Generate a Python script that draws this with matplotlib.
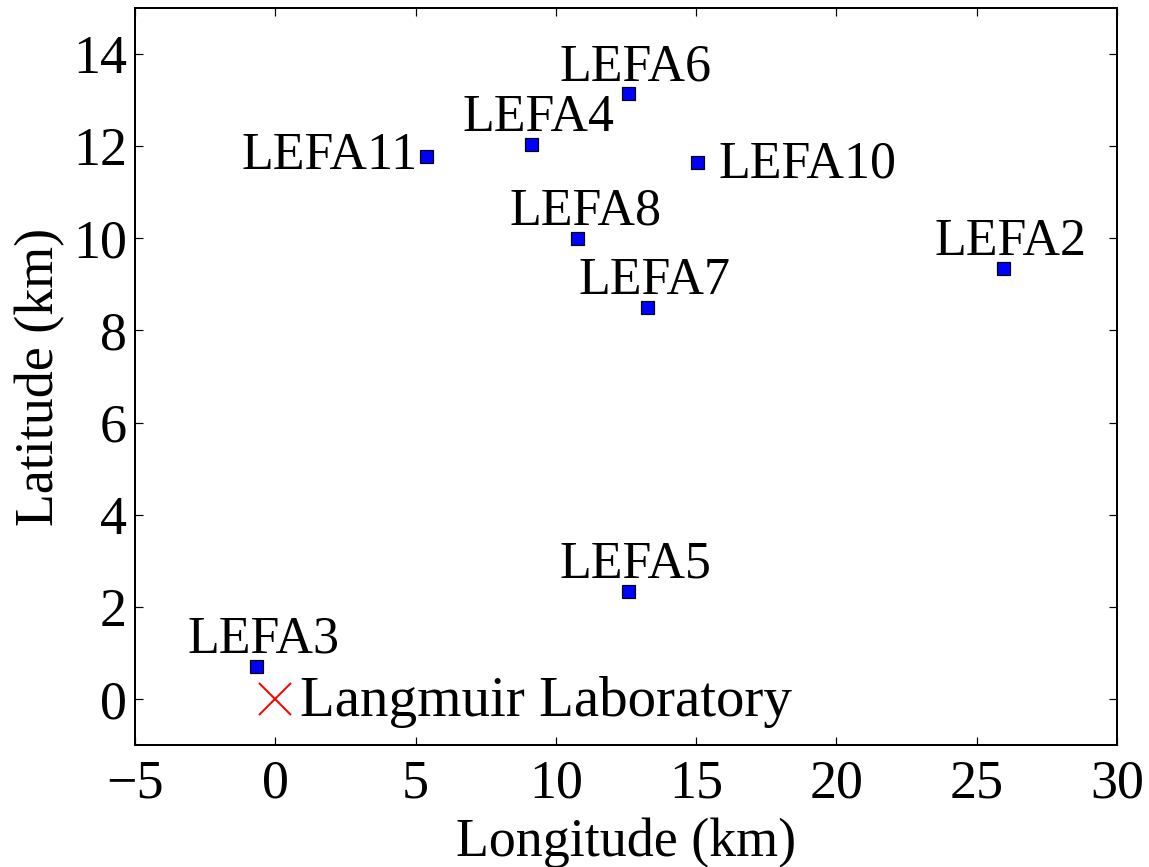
import matplotlib
matplotlib.use("Agg")
import matplotlib.pyplot as plt

# station positions (km, relative to Langmuir Laboratory)
names = ["LEFA2", "LEFA3", "LEFA4", "LEFA5", "LEFA6", "LEFA7", "LEFA8", "LEFA10", "LEFA11"]
lon = [25.93, -0.69, 9.11, 12.57, 12.56, 13.25, 10.76, 15.03, 5.37]
lat = [9.35, 0.72, 12.04, 2.35, 13.15, 8.51, 10.01, 11.66, 11.78]
lab_lon, lab_lat = 0.0, 0.0
lab_name = "Langmuir Laboratory"


def main():
    plt.rcParams.update({"font.family": "Liberation Serif", "font.size": 27})
    fig = plt.figure(figsize=(1149 / 144, 867 / 144), dpi=144)
    ax = fig.add_axes([0.1175, 0.1407, 0.8547, 0.8501])

    ax.plot(lon, lat, "s", color="blue", mec="black", mew=0.6, ms=6.5, ls="none")
    ax.plot([lab_lon], [lab_lat], "x", color="red", ms=16, mew=1.0)

    for n, x, y in zip(names, lon, lat):
        if n == "LEFA11":
            ax.text(x - 0.29, y - 0.27, n, ha="right", va="baseline", fontsize=26)
        elif n == "LEFA10":
            ax.text(x + 0.75, y - 0.35, n, ha="left", va="baseline", fontsize=26)
        else:
            ax.text(x + 0.28, y + 0.28, n, ha="center", va="baseline", fontsize=26)
    ax.text(lab_lon + 0.89, lab_lat - 0.38, lab_name, ha="left", va="baseline", fontsize=28.5)

    ax.set_xlim(-5, 30)
    ax.set_ylim(-1, 15)
    ax.set_xticks(range(-5, 31, 5))
    ax.set_yticks(range(0, 15, 2))
    ax.set_xticklabels(["\u22125"] + [str(v) for v in range(0, 31, 5)])
    ax.tick_params(direction="in", top=True, right=True, length=4, width=0.6)
    ax.tick_params(axis="x", pad=7)
    ax.tick_params(axis="y", pad=4)
    for s in ax.spines.values():
        s.set_linewidth(1.0)
    ax.set_xlabel("Longitude (km)", labelpad=4)
    ax.set_ylabel("Latitude (km)", labelpad=4)

    fig.savefig("out.png", dpi=144)
    plt.close(fig)


if __name__ == "__main__":
    main()
